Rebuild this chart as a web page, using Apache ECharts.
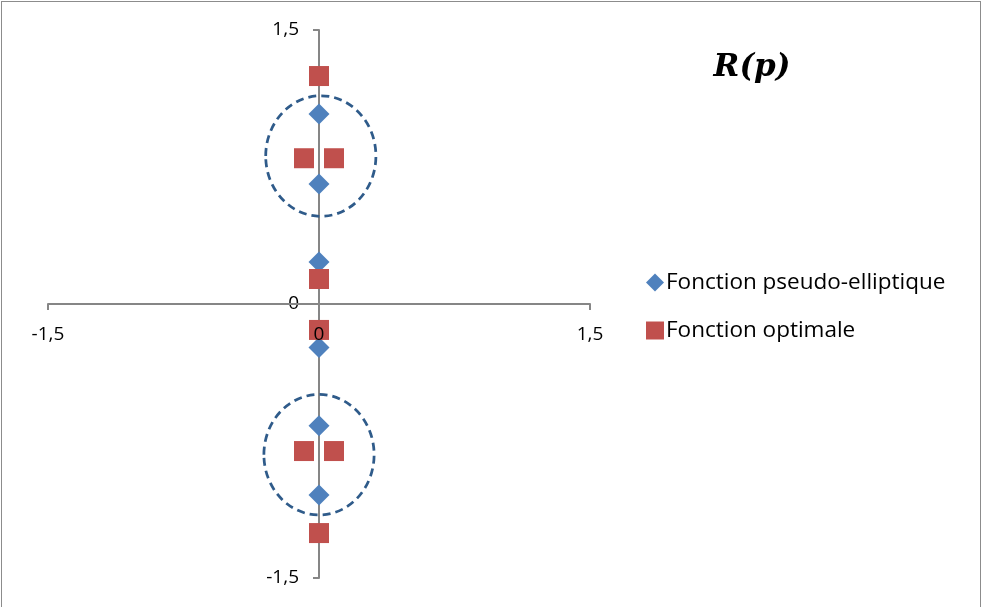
<!DOCTYPE html>
<html>
<head>
<meta charset="utf-8">
<script src="https://cdn.jsdelivr.net/npm/echarts@6/dist/echarts.min.js"></script>
<style>
  html, body { margin: 0; padding: 0; background: #fff; overflow: hidden; }
  #frame { position: absolute; left: 1px; top: 1px; width: 980px; height: 620px;
           border: 1.5px solid #8c8c8c; box-sizing: border-box; }
  #chart { position: absolute; left: 0; top: 0; width: 983px; height: 607px; }
</style>
</head>
<body>
<div id="frame"></div>
<div id="chart"></div>
<script>
// points: [x, y]
var pseudoElliptique = [
  [0, 1.04], [0, 0.657], [0, 0.23],
  [0, -0.238], [0, -0.666], [0, -1.046]
];
var optimale = [
  [0, 1.248], [-0.083, 0.798], [0.083, 0.798], [0, 0.137],
  [0, -0.142], [-0.083, -0.805], [0.083, -0.805], [0, -1.254]
];
// dashed circles round the pairs: [cx, cy, rx, ry]
var cercles = [
  [0.01, 0.81, 0.305, 0.33],
  [0, -0.825, 0.305, 0.33]
];
var axisMin = -1.5, axisMax = 1.5, axisStep = 1.5;

var gridLeft = 48, gridTop = 30, gridW = 542, gridH = 548;

var myChart = echarts.init(document.getElementById('chart'));

var labelFmt = function (v) { return String(v).replace('.', ','); };
var axisFont = { fontFamily: 'Open Sans', fontSize: 19, color: '#000' };
var axisLine = { onZero: false, lineStyle: { color: '#868686', width: 2 } };
var axisTick = { show: true, length: 6, lineStyle: { color: '#868686', width: 2 } };

var option = {
  animation: false,
  title: {
    text: 'R(p)',
    left: 747, top: 47, textAlign: 'center',
    textStyle: { fontFamily: 'DejaVu Serif', fontStyle: 'italic', fontWeight: 'bold', fontSize: 31, color: '#000' }
  },
  legend: {
    orient: 'vertical',
    left: 641, top: 266,
    itemWidth: 18, itemHeight: 18, itemGap: 25,
    textStyle: { fontFamily: 'Open Sans', fontSize: 22.5, color: '#000', padding: [0, 0, 0, -3] },
    data: [
      { name: 'Fonction pseudo-elliptique', icon: 'diamond' },
      { name: 'Fonction optimale', icon: 'rect' }
    ]
  },
  grid: { left: gridLeft, top: gridTop, width: gridW, height: gridH, outerBoundsMode: 'none' },
  // axes cross at the middle of the grid (zero of a symmetric range)
  xAxis: {
    type: 'value', min: axisMin, max: axisMax, interval: axisStep, z: 3,
    position: 'bottom', offset: -gridH / 2,
    axisLine: axisLine, axisTick: axisTick,
    axisLabel: Object.assign({ margin: 21, formatter: labelFmt }, axisFont),
    splitLine: { show: false }
  },
  yAxis: {
    type: 'value', min: axisMin, max: axisMax, interval: axisStep,
    position: 'left', offset: -gridW / 2,
    axisLine: axisLine, axisTick: axisTick,
    axisLabel: Object.assign({ margin: 20, formatter: labelFmt }, axisFont),
    splitLine: { show: false }
  },
  series: [
    {
      name: 'Fonction pseudo-elliptique', type: 'scatter',
      symbol: 'diamond', symbolSize: [21, 21],
      itemStyle: { color: '#4f81bd', opacity: 1 },
      data: pseudoElliptique
    },
    {
      name: 'Fonction optimale', type: 'scatter',
      symbol: 'rect', symbolSize: [20, 20],
      itemStyle: { color: '#c0504d', opacity: 1 },
      data: optimale
    },
    {
      type: 'custom', silent: true, z: 1,
      renderItem: function (params, api) {
        var c = api.coord([api.value(0), api.value(1)]);
        var s = api.size([api.value(2), api.value(3)]);
        return {
          type: 'ellipse',
          shape: { cx: c[0], cy: c[1], rx: s[0], ry: s[1] },
          style: { fill: null, stroke: '#2f5b8a', lineWidth: 2.75, lineDash: [8, 5] }
        };
      },
      data: cercles
    }
  ]
};

myChart.setOption(option);
</script>
</body>
</html>
